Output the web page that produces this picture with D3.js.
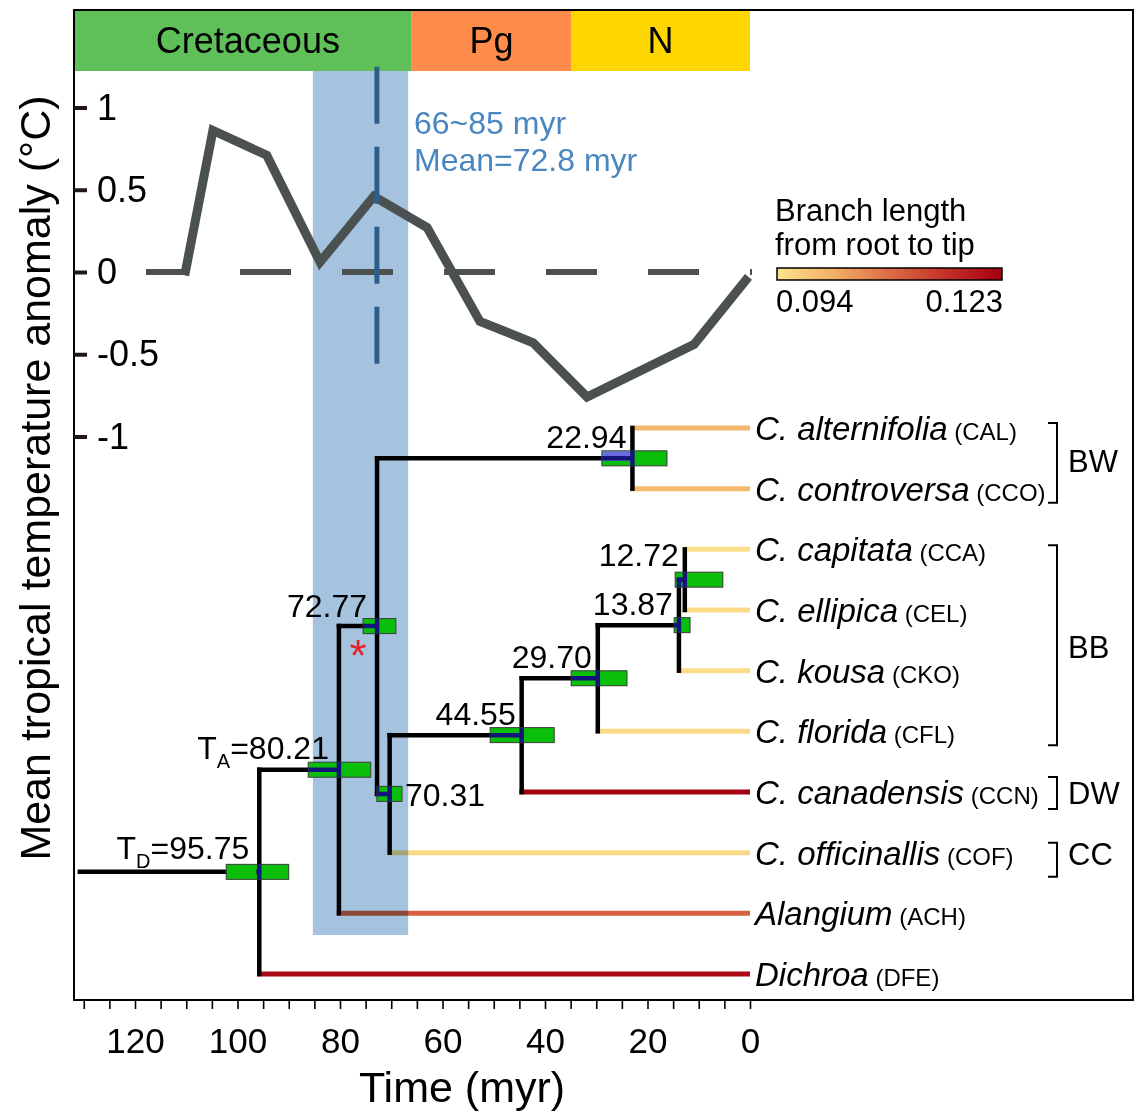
<!DOCTYPE html>
<html><head><meta charset="utf-8">
<script src="https://cdn.jsdelivr.net/npm/d3@7"></script>
<style>body{margin:0;background:#fff} text{font-family:"Liberation Sans",Arial,sans-serif}</style>
</head><body><svg id="c" width="1136" height="1112"></svg>
<script>
// ---------- data ----------
const epochNames = ["Cretaceous", "Pg", "N"];
const epochStart = [132, 66, 34.9];
const epochEnd = [66, 34.9, 0];
const epochColors = ["#5FC05A", "#FF8C4B", "#FFD600"];

const tempAge = [110.3, 104.8, 94.3, 83.9, 73.4, 63.0, 52.7, 42.3, 31.8, 10.9, 0.3];
const tempAnomaly = [-0.02, 0.86, 0.71, 0.06, 0.46, 0.27, -0.30, -0.43, -0.76, -0.44, -0.03];
const tempTicks = [1, 0.5, 0, -0.5, -1];
const timeTicks = [120, 100, 80, 60, 40, 20, 0];

const divergenceInterval = [85.3, 66.7];
const divergenceMean = 72.8;

const tipCodes = ["CAL", "CCO", "CCA", "CEL", "CKO", "CFL", "CCN", "COF", "ACH", "DFE"];
const tipNames = ["C. alternifolia", "C. controversa", "C. capitata", "C. ellipica", "C. kousa",
  "C. florida", "C. canadensis", "C. officinallis", "Alangium", "Dichroa"];
const tipBranchLength = [0.0998, 0.0995, 0.0945, 0.0950, 0.0948, 0.0952, 0.1230, 0.0955, 0.1100, 0.1215];

const nodeIds = ["D", "A", "N72", "N22", "N70", "N44", "N29", "N13", "N12"];
const nodeChildren = [["A", "DFE"], ["N72", "ACH"], ["N22", "N70"], ["CAL", "CCO"], ["N44", "COF"],
  ["N29", "CCN"], ["N13", "CFL"], ["N12", "CKO"], ["CCA", "CEL"]];
const nodeAges = [95.75, 80.21, 72.77, 22.94, 70.31, 44.55, 29.70, 13.87, 12.72];
const nodeCI = [[102.2, 90.0], [86.2, 74.0], [75.5, 69.1], [28.9, 16.2], [72.8, 67.9],
  [50.7, 38.2], [34.9, 24.0], [14.8, 11.7], [14.6, 5.3]];
const rootStartAge = 131.2;

const groupNames = ["BW", "BB", "DW", "CC"];
const groupFirst = ["CAL", "CCA", "CCN", "COF"];
const groupLast = ["CCO", "CFL", "CCN", "COF"];

const legendRange = [0.094, 0.123];
const legendStops = ["#FDE28D", "#F3B068", "#DD6B45", "#C23126", "#A50010"];

// ---------- setup ----------
const svg = d3.select("#c");
const x = d3.scaleLinear().domain([0, 120]).range([750, 135]);
const yT = d3.scaleLinear().domain([-1, 1]).range([436.5, 107.5]);
const yTip = d3.scalePoint().domain(tipCodes).range([428, 974]);
const colorInterp = d3.interpolateRgbBasis(legendStops);
const color = d3.scaleSequential(colorInterp).domain(legendRange);

const fL = 74, fT = 10, fR = 1133, fB = 1000;

svg.append("rect").attr("width", 1136).attr("height", 1112).attr("fill", "#fff");

// epoch bar
const eg = svg.append("g");
epochNames.forEach((n, i) => {
  const x0 = Math.max(fL, x(epochStart[i])), x1 = x(epochEnd[i]);
  eg.append("rect").attr("x", x0).attr("y", fT).attr("width", x1 - x0).attr("height", 61).attr("fill", epochColors[i]);
  eg.append("text").attr("x", (x0 + x1) / 2 + (i === 0 ? 5 : 0)).attr("y", 53).attr("text-anchor", "middle")
    .attr("font-size", 36).text(n);
});

// ---------- tree layout ----------
const nodeMap = {};
nodeIds.forEach((id, i) => nodeMap[id] = { id, age: nodeAges[i], ci: nodeCI[i], children: nodeChildren[i] });
function layY(id) {
  if (nodeMap[id]) {
    const n = nodeMap[id];
    n.ys = n.children.map(layY);
    n.y = d3.mean(n.ys);
    return n.y;
  }
  return yTip(id);
}
layY("D");

const lw = 4.5;
const branches = [];
const tipLines = [];
branches.push({ x1: x(rootStartAge), y1: nodeMap.D.y, x2: x(nodeMap.D.age), y2: nodeMap.D.y });
nodeIds.forEach(id => {
  const n = nodeMap[id];
  const px = x(n.age);
  branches.push({ x1: px, y1: d3.min(n.ys) - lw / 2, x2: px, y2: d3.max(n.ys) + lw / 2 });
  n.children.forEach((c, k) => {
    if (nodeMap[c]) {
      branches.push({ x1: px - lw / 2, y1: n.ys[k], x2: x(nodeMap[c].age), y2: n.ys[k] });
    } else {
      const ti = tipCodes.indexOf(c);
      tipLines.push({ x1: px - lw / 2, x2: x(0), y: n.ys[k], c: color(tipBranchLength[ti]) });
    }
  });
});

const tg = svg.append("g");
tg.selectAll(".tip").data(tipLines).join("line")
  .attr("x1", d => d.x1).attr("x2", d => d.x2).attr("y1", d => d.y).attr("y2", d => d.y)
  .attr("stroke", d => d.c).attr("stroke-width", 5);
tg.selectAll(".br").data(branches).join("line")
  .attr("x1", d => d.x1).attr("x2", d => d.x2).attr("y1", d => d.y1).attr("y2", d => d.y2)
  .attr("stroke", "#000").attr("stroke-width", lw);

// divergence band (multiply)
svg.append("rect").attr("x", x(divergenceInterval[0])).attr("y", 71)
  .attr("width", x(divergenceInterval[1]) - x(divergenceInterval[0])).attr("height", 864)
  .attr("fill", "#A5C3DF").style("mix-blend-mode", "multiply");

// temperature
svg.append("line").attr("x1", 146).attr("x2", 752).attr("y1", yT(0)).attr("y2", yT(0))
  .attr("stroke", "#4B5150").attr("stroke-width", 6).attr("stroke-dasharray", "51,51").attr("stroke-dashoffset", 8);
svg.append("path").datum(tempAge.map((a, i) => [a, tempAnomaly[i]]))
  .attr("d", d3.line().x(d => x(d[0])).y(d => yT(d[1])))
  .attr("fill", "none").attr("stroke", "#4B5150").attr("stroke-width", 9).attr("stroke-linejoin", "miter");
svg.append("line").attr("x1", x(divergenceMean)).attr("x2", x(divergenceMean))
  .attr("y1", yT(1.248)).attr("y2", yT(-0.565))
  .attr("stroke", "#2D5E8A").attr("stroke-width", 5).attr("stroke-dasharray", "57,23");
svg.append("text").attr("x", 414).attr("y", 134).attr("font-size", 32).attr("fill", "#4A86C0").text("66~85 myr");
svg.append("text").attr("x", 414).attr("y", 171).attr("font-size", 32).attr("fill", "#4A86C0").text("Mean=72.8 myr");

// ---------- node boxes ----------
const bh = 15;
const defs = svg.append("defs");
const clip = defs.append("clipPath").attr("id", "boxclip");
const bg = svg.append("g");
nodeIds.forEach(id => {
  const n = nodeMap[id];
  const bx0 = x(n.ci[0]), bx1 = x(n.ci[1]);
  bg.append("rect").attr("x", bx0).attr("y", n.y - bh / 2).attr("width", bx1 - bx0).attr("height", bh)
    .attr("fill", "#0ABF0A").attr("stroke", "#3a3a3a").attr("stroke-width", 1);
  if (id === "D") {
    clip.append("rect").attr("x", x(n.age) - 3).attr("y", n.y - bh / 2).attr("width", 6).attr("height", bh);
  } else {
    clip.append("rect").attr("x", bx0).attr("y", n.y - bh / 2).attr("width", bx1 - bx0).attr("height", bh);
  }
  if (id === "N22") {
    bg.append("rect").attr("x", bx0 + 0.5).attr("y", n.y - bh / 2 + 0.5).attr("width", x(n.age) - bx0)
      .attr("height", bh / 2 + 2).attr("fill", "#6C6CE0");
  }
});
svg.append("g").attr("clip-path", "url(#boxclip)").selectAll("line").data(branches).join("line")
  .attr("x1", d => d.x1).attr("x2", d => d.x2).attr("y1", d => d.y1).attr("y2", d => d.y2)
  .attr("stroke", "#14147A").attr("stroke-width", lw);

// node labels
const lg = svg.append("g").attr("font-size", 32);
nodeIds.forEach(id => {
  const n = nodeMap[id];
  const nx = x(n.age);
  if (id === "D" || id === "A") {
    const t = lg.append("text").attr("x", nx - 10).attr("y", n.y - (id === "D" ? 13 : 11)).attr("text-anchor", "end");
    t.append("tspan").text("T");
    t.append("tspan").attr("font-size", 20).attr("dy", 9).text(id);
    t.append("tspan").attr("dy", -9).text("=" + n.age.toFixed(2));
  } else if (id === "N70") {
    lg.append("text").attr("x", x(n.ci[1]) + 3).attr("y", n.y + 12).text(n.age.toFixed(2));
  } else {
    const off = id === "N12" ? 14 : (id === "N72" ? 9 : 10);
    const dx = (id === "N72") ? 10 : 6;
    lg.append("text").attr("x", nx - dx).attr("y", n.y - off).attr("text-anchor", "end").text(n.age.toFixed(2));
  }
});
svg.append("text").attr("x", x(nodeMap.N72.age) - 19).attr("y", nodeMap.N72.y + 45).attr("text-anchor", "middle")
  .attr("font-size", 44).attr("fill", "#E8202A").text("*");

// tip labels
const tl = svg.append("g");
tipCodes.forEach((c, i) => {
  const t = tl.append("text").attr("x", 755).attr("y", yTip(c) + 12);
  t.append("tspan").attr("font-size", 33).attr("font-style", "italic").text(tipNames[i]);
  t.append("tspan").attr("font-size", 24).text(" (" + c + ")");
});

// group brackets
const padTop = [5, 4, 15, 10], padBot = [14, 14, 17, 24];
groupNames.forEach((g, i) => {
  const y0 = yTip(groupFirst[i]) - padTop[i], y1 = yTip(groupLast[i]) + padBot[i];
  svg.append("path").attr("d", `M1048,${y0}H1057V${y1}H1048`).attr("fill", "none").attr("stroke", "#000").attr("stroke-width", 2);
  svg.append("text").attr("x", 1068).attr("y", yTip(groupFirst[i]) / 2 + yTip(groupLast[i]) / 2 + 12 + (i === 0 ? 2 : 0) + (i === 1 ? 6 : 0))
    .attr("font-size", 31).text(g);
});

// legend
const grad = defs.append("linearGradient").attr("id", "lg");
legendStops.forEach((s, i) => grad.append("stop").attr("offset", i / (legendStops.length - 1)).attr("stop-color", s));
svg.append("text").attr("x", 775).attr("y", 221).attr("font-size", 31).text("Branch length");
svg.append("text").attr("x", 775).attr("y", 255).attr("font-size", 31).text("from root to tip");
svg.append("rect").attr("x", 777).attr("y", 268).attr("width", 225).attr("height", 12).attr("fill", "url(#lg)")
  .attr("stroke", "#000").attr("stroke-width", 1.5);
svg.append("text").attr("x", 776).attr("y", 312).attr("font-size", 31).text(legendRange[0].toFixed(3));
svg.append("text").attr("x", 1003).attr("y", 312).attr("font-size", 31).attr("text-anchor", "end").text(legendRange[1].toFixed(3));

// frame
svg.append("rect").attr("x", fL).attr("y", fT).attr("width", fR - fL).attr("height", fB - fT)
  .attr("fill", "none").attr("stroke", "#000").attr("stroke-width", 2);

// axes
const xa = svg.append("g").attr("transform", `translate(0,${fB})`)
  .call(d3.axisBottom(x).tickValues(d3.range(0, 131, 5)).tickSize(9).tickPadding(19)
    .tickFormat(d => timeTicks.includes(d) ? String(d) : ""));
xa.select(".domain").remove();
xa.selectAll("line").attr("stroke-width", 1.6);
xa.selectAll("text").attr("font-size", 35).attr("font-family", "Liberation Sans, Arial, sans-serif");
svg.append("text").attr("x", 462).attr("y", 1102).attr("text-anchor", "middle").attr("font-size", 43).text("Time (myr)");

const ya = svg.append("g").attr("transform", `translate(${fL},0)`)
  .call(d3.axisRight(yT).tickValues(tempTicks).tickSize(13).tickPadding(10).tickFormat(d => String(d)));
ya.select(".domain").remove();
ya.selectAll("line").attr("stroke-width", 4).attr("stroke", "#231815");
ya.selectAll("text").attr("font-size", 36).attr("font-family", "Liberation Sans, Arial, sans-serif");
svg.append("text").attr("transform", "translate(50,478) rotate(-90)").attr("text-anchor", "middle")
  .attr("font-size", 43).text("Mean tropical temperature anomaly (°C)");
</script></body></html>
